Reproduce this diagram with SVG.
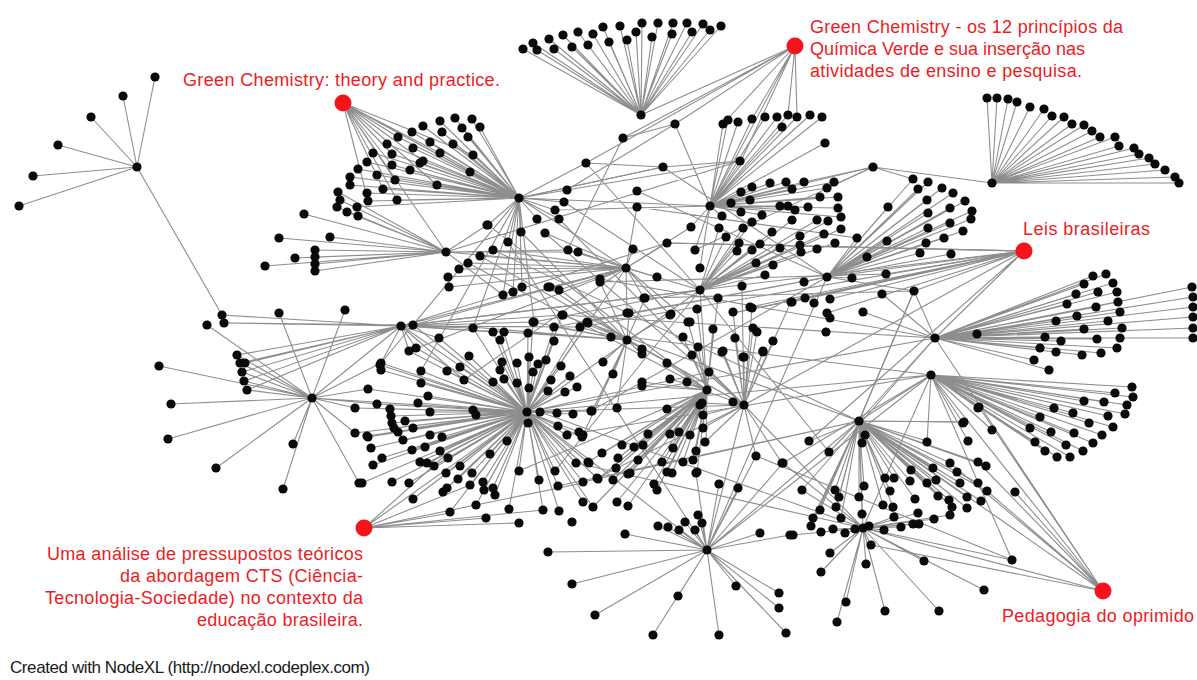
<svg xmlns="http://www.w3.org/2000/svg" width="1197" height="680" viewBox="0 0 1197 680">
<style>
.e{fill:none;stroke:#8e8e8e;stroke-width:1.1}
.n circle{fill:#0a0a0a}
.red{fill:#f4141c}
.lbl{font-family:"Liberation Sans",Arial,sans-serif;font-size:18px;fill:#ec1c24}
.cr{font-family:"Liberation Sans",Arial,sans-serif;font-size:17px;fill:#1a1a1a}
</style>
<rect width="1197" height="680" fill="#fff"/>
<g id="connectors">
<path class="e" d="M137 167L155 77M137 167L123 96M137 167L91 117M137 167L58 145M137 167L33 176M137 167L19 206M137 167L222 315"/>
<path class="e" d="M222 315L401 326M224 323L401 326M224 323L413 325M207 325L312 398M279 313L312 398M345 310L312 398M237 355L401 326M240 363L401 326M245 363L401 326M242 372L401 326M244 381L401 326M247 390L401 326"/>
<path class="e" d="M312 398L159 366M312 398L171 404M312 398L168 439M312 398L216 468M312 398L283 489M312 398L293 444M312 398L359 483M312 398L237 355M312 398L240 363M312 398L242 372M312 398L244 381M312 398L247 390M312 398L401 326M312 398L381 363M312 398L368 389M312 398L377 404M312 398L355 408M312 398L355 433M312 398L527 412"/>
<path class="e" d="M401 326L473 328M401 326L493 332M401 326L504 332M401 326L533 322M401 326L562 315M401 326L580 327M401 326L626 268M401 326L667 243M401 326L700 290M401 326L381 363M401 326L409 351M401 326L416 348M401 326L439 338M401 326L464 380"/>
<path class="e" d="M343 103L398 137M343 103L392 154M343 103L392 165M343 103L395 180M343 103L397 200M343 103L423 161M343 103L440 153M343 103L473 155M343 103L470 172M343 103L437 185M343 103L519 198M343 103L446 252M343 103L368 201M343 103L383 189"/>
<path class="e" d="M519 198L398 137M519 198L387 144M519 198L392 154M519 198L373 153M519 198L367 162M519 198L392 165M519 198L358 169M519 198L377 175M519 198L395 180M519 198L350 177M519 198L350 185M519 198L383 189M519 198L367 193M519 198L368 201M519 198L397 200M519 198L357 207M519 198L423 126M519 198L440 121M519 198L455 118M519 198L472 119M519 198L480 127M519 198L462 128M519 198L442 132M519 198L412 132M519 198L468 137M519 198L430 142M519 198L453 144M519 198L413 148M519 198L423 161M519 198L440 153M519 198L473 155M519 198L410 170M519 198L420 163M519 198L470 172M519 198L437 185M519 198L537 219M519 198L521 232M519 198L555 210M519 198L559 219M519 198L488 225M519 198L508 242M519 198L503 295M519 198L513 292M519 198L522 287M519 198L534 322M519 198L564 202M519 198L567 190M519 198L586 163M519 198L740 161M519 198L663 167M519 198L710 206M519 198L626 268"/>
<path class="e" d="M446 252L279 238M446 252L330 237M446 252L295 258M446 252L265 266M446 252L315 250M446 252L315 257M446 252L315 264M446 252L315 271M446 252L304 214M446 252L337 207M446 252L347 212M446 252L358 216M446 252L340 200M446 252L338 192M446 252L626 268M446 252L568 250M446 252L578 252M446 252L487 225"/>
<path class="e" d="M641 115L523 49M641 115L533 43M641 115L537 50M641 115L549 39M641 115L554 49M641 115L563 35M641 115L572 47M641 115L578 32M641 115L588 45M641 115L593 34M641 115L603 27M641 115L609 42M641 115L620 26M641 115L627 40M641 115L636 32M641 115L642 23M641 115L652 37M641 115L658 23M641 115L672 34M641 115L673 23M641 115L687 23M641 115L692 32M641 115L703 24M641 115L710 30M641 115L721 26M641 115L795 46"/>
<path class="e" d="M795 46L623 138M795 46L586 163M795 46L723 124M795 46L752 119M795 46L788 115M795 46L797 117M795 46L710 206M795 46L675 124M795 46L741 161"/>
<path class="e" d="M710 206L723 124M710 206L728 120M710 206L738 122M710 206L752 119M710 206L765 117M710 206L777 117M710 206L782 127M710 206L788 115M710 206L797 117M710 206L810 115M710 206L822 117M710 206L825 143M710 206L741 161M710 206L752 187M710 206L770 183M710 206L786 182M710 206L792 189M710 206L804 182M710 206L827 188M710 206L834 182M710 206L741 192M710 206L750 200M710 206L731 203M710 206L722 216M710 206L741 212M710 206L762 215M710 206L780 206M710 206L788 206M710 206L795 210M710 206L808 207M710 206L820 197M710 206L838 197M710 206L838 208M710 206L841 217M710 206L873 167M710 206L691 227M710 206L695 250M710 206L700 268"/>
<path class="e" d="M700 290L817 220M700 290L828 221M700 290L841 229M700 290L792 220M700 290L752 222M700 290L743 228M700 290L772 232M700 290L719 228M700 290L726 237M700 290L739 243M700 290L760 244M700 290L800 236M700 290L800 245M700 290L801 252M700 290L780 248M700 290L737 251M700 290L752 250M700 290L817 249M700 290L824 234M700 290L835 243M700 290L756 263M700 290L773 265M700 290L765 275M700 290L1024 251M700 290L626 268"/>
<path class="e" d="M827 277L913 179M827 277L928 182M827 277L918 189M827 277L942 188M827 277L953 193M827 277L927 200M827 277L965 201M827 277L950 208M827 277L972 211M827 277L971 219M827 277L928 213M827 277L950 223M827 277L928 228M827 277L963 231M827 277L944 238M827 277L926 243M827 277L920 253M827 277L951 254M827 277L888 207M827 277L887 241M827 277L857 238M827 277L867 257M827 277L804 282M827 277L852 278"/>
<path class="e" d="M873 167L992 183M873 167L804 182M873 167L827 188M873 167L913 179"/>
<path class="e" d="M992 183L987 98M992 183L997 98M992 183L1008 99M992 183L1017 102M992 183L1030 107M992 183L1044 109M992 183L1052 116M992 183L1064 117M992 183L1072 124M992 183L1084 125M992 183L1092 131M992 183L1100 137M992 183L1115 137M992 183L1119 146M992 183L1134 148M992 183L1139 154M992 183L1149 158M992 183L1155 164M992 183L1165 170M992 183L1175 177M992 183L1179 183"/>
<path class="e" d="M1024 251L733 313M1024 251L750 307M1024 251L792 302M1024 251L827 277M1024 251L886 274M1024 251L914 291M1024 251L935 338M1024 251L827 313M1024 251L830 299M1024 251L805 298M1024 251L744 405M1024 251L667 243M1024 251L809 441"/>
<path class="e" d="M935 338L1093 276M935 338L1106 274M935 338L1084 284M935 338L1113 283M935 338L1076 294M935 338L1098 292M935 338L1117 292M935 338L1067 304M935 338L1096 307M935 338L1118 302M935 338L1077 316M935 338L1120 312M935 338L1056 321M935 338L1084 329M935 338L1108 321M935 338L1122 328M935 338L1045 337M935 338L1061 341M935 338L1097 339M935 338L1120 338M935 338L1040 348M935 338L1056 352M935 338L1082 355M935 338L1101 353M935 338L1117 348M935 338L1034 360M935 338L1049 370M935 338L1192 287M935 338L1193 297M935 338L1193 307M935 338L1193 317M935 338L1193 328M935 338L1193 338M935 338L977 334M935 338L914 291M935 338L882 294M935 338L863 312"/>
<path class="e" d="M931 375L1132 387M931 375L1133 397M931 375L1115 393M931 375L1127 405M931 375L1125 414M931 375L1084 401M931 375L1104 402M931 375L1054 408M931 375L1073 413M931 375L1108 416M931 375L1040 417M931 375L1089 423M931 375L1113 427M931 375L1030 428M931 375L1051 432M931 375L1074 433M931 375L1102 435M931 375L1035 442M931 375L1066 445M931 375L1093 443M931 375L1045 451M931 375L1083 451M931 375L1057 457M931 375L1070 457M931 375L978 408M931 375L963 423M931 375L992 430M931 375L927 442M931 375L968 441M931 375L979 407"/>
<path class="e" d="M859 421L865 435M859 421L862 443M859 421L809 441M859 421L829 452M859 421L927 441M859 421L964 422M859 421L911 470M859 421L933 468M859 421L950 463M859 421L957 472M859 421L978 462M859 421L986 466M859 421L885 478M859 421L894 478M859 421L910 481M859 421L927 483M859 421L936 480M859 421L960 483M859 421L978 483M859 421L987 491M859 421L864 486M859 421L890 491M859 421L835 490M859 421L839 497M859 421L859 497M859 421L915 499M859 421L938 496M859 421L949 500M859 421L967 497M859 421L981 501M859 421L836 507M859 421L883 505M859 421L893 507M859 421L952 507M859 421L967 508M859 421L820 510M859 421L841 518M859 421L862 514M859 421L813 518M859 421L811 526M859 421L863 528M859 421L914 291M859 421L931 375M859 421L935 338"/>
<path class="e" d="M863 528L894 517M863 528L918 513M863 528L950 515M863 528L934 519M863 528L821 532M863 528L833 529M863 528L845 533M863 528L855 529M863 528L869 526M863 528L884 530M863 528L901 527M863 528L913 524M863 528L919 524M863 528L793 535M863 528L871 545M863 528L830 553M863 528L866 564M863 528L924 561M863 528L1012 560M863 528L821 572M863 528L837 622M863 528L885 611M863 528L939 611M863 528L846 602M863 528L984 590M863 528L802 490M863 528L1103 591M863 528L783 463"/>
<path class="e" d="M1103 591L931 375M1103 591L935 338M1103 591L859 421M1103 591L978 462M1103 591L1015 492M1103 591L979 407M1103 591L950 463M1103 591L987 491"/>
<path class="e" d="M707 550L548 552M707 550L572 584M707 550L595 615M707 550L653 635M707 550L678 596M707 550L719 635M707 550L736 586M707 550L779 593M707 550L779 608M707 550L786 633M707 550L760 533M707 550L790 535M707 550L658 526M707 550L668 527M707 550L679 530M707 550L685 522M707 550L695 530M707 550L698 515M707 550L702 523M707 550L625 534M707 550L744 405M707 550L859 421M707 550L827 277M707 550L931 375M707 550L527 412M707 550L756 456M707 550L783 463M707 550L719 484M707 550L738 488M707 550L696 473"/>
<path class="e" d="M527 412L402 326M527 412L413 325M527 412L473 328M527 412L493 332M527 412L504 332M527 412L500 340M527 412L533 322M527 412L528 333M527 412L554 327M527 412L562 315M527 412L554 341M527 412L580 327M527 412L588 323M527 412L439 338M527 412L409 351M527 412L416 348M527 412L469 356M527 412L502 362M527 412L517 363M527 412L529 357M527 412L538 364M527 412L546 360M527 412L561 366M527 412L381 363M527 412L381 370M527 412L421 371M527 412L447 371M527 412L460 367M527 412L500 370M527 412L504 379M527 412L493 382M527 412L517 383M527 412L533 372M527 412L551 380M527 412L570 376M527 412L529 388M527 412L548 391M527 412L565 392M527 412L577 387M527 412L421 383M527 412L464 380M527 412L368 389M527 412L428 396M527 412L377 404M527 412L418 403M527 412L473 410M527 412L476 415M527 412L390 409M527 412L391 416M527 412L392 423M527 412L430 412M527 412L557 413M527 412L573 414M527 412L591 411M527 412L558 426M527 412L394 428M527 412L405 421M527 412L413 428M527 412L398 432M527 412L367 436M527 412L403 440M527 412L430 435M527 412L425 447M527 412L442 437M527 412L567 435M527 412L579 432M527 412L582 437M527 412L371 448M527 412L412 450M527 412L440 451M527 412L448 458M527 412L507 441M527 412L490 454M527 412L382 458M527 412L373 465M527 412L420 462M527 412L427 463M527 412L434 466M527 412L460 466M527 412L519 471M527 412L446 473M527 412L458 479M527 412L472 473M527 412L470 485M527 412L483 482M527 412L484 490M527 412L493 488M527 412L495 495M527 412L539 480M527 412L555 471M527 412L558 486M527 412L576 463M527 412L589 463M527 412L583 482M527 412L597 478M527 412L392 482M527 412L409 483M527 412L362 483M527 412L413 499M527 412L443 492M527 412L447 488M527 412L450 512M527 412L476 505M527 412L509 509M527 412L543 510M527 412L559 511M527 412L583 502M527 412L593 507M527 412L380 365M527 412L355 408M527 412L355 433M527 412L368 437"/>
<path class="e" d="M364 528L450 513M364 528L486 518M364 528L527 412M364 528L450 451M364 528L583 483M364 528L470 485M364 528L519 523M364 528L543 510"/>
<path class="e" d="M626 268L448 277M626 268L449 287M626 268L459 269M626 268L468 263M626 268L480 256M626 268L493 250M626 268L545 233M626 268L568 250M626 268L578 252M626 268L633 249M626 268L600 279M626 268L657 277M626 268L637 207M626 268L667 243M626 268L691 227M626 268L550 287M626 268L559 290M626 268L627 313M626 268L644 298M626 268L670 315M626 268L690 322"/>
<path class="e" d="M627 340L587 322M627 340L611 337M627 340L603 362M627 340L592 411M627 340L583 435M627 340L612 335M627 340L613 374M627 340L632 341M627 340L642 349M627 340L642 354M627 340L617 408M627 340L600 282M627 340L645 298M627 340L629 313M627 340L671 314M627 340L548 287M627 340L559 289M627 340L563 315M627 340L579 327M627 340L533 322M627 340L555 327M627 340L493 331M627 340L503 332M627 340L471 327M627 340L528 333"/>
<path class="e" d="M744 405L733 402M744 405L742 286M744 405L752 308M744 405L753 328M744 405L757 332M744 405L773 341M744 405L735 338M744 405L763 351M744 405L744 357M744 405L723 351M744 405L733 312M744 405L791 302M744 405L756 456M744 405L782 463M744 405L709 372M744 405L708 392M744 405L702 403M744 405L703 415M744 405L703 428M744 405L705 442M744 405L722 352M744 405L743 357M744 405L763 352M744 405L773 343"/>
<path class="e" d="M707 390L700 290M707 390L718 298M707 390L697 309M707 390L688 322M707 390L713 329M707 390L683 337M707 390L698 347M707 390L692 355M707 390L667 363M707 390L670 379M707 390L687 382M707 390L642 382M707 390L642 386M707 390L667 409M707 390L700 405M707 390L704 413M707 390L648 434M707 390L670 434M707 390L679 432M707 390L690 435M707 390L703 428M707 390L706 442M707 390L622 445M707 390L634 447M707 390L643 445M707 390L673 448M707 390L696 451M707 390L693 460M707 390L683 462M707 390L602 453M707 390L588 462M707 390L618 458M707 390L638 460M707 390L662 462M707 390L616 468M707 390L630 473M707 390L667 472M707 390L697 472M707 390L598 479M707 390L613 480M707 390L628 474M707 390L654 484M707 390L657 490M707 390L672 473M707 390L617 502M707 390L628 506"/>
<path class="e" d="M401 326L700 290M413 325L626 268M446 252L740 161M519 198L663 167M555 210L710 206M567 190L675 124M623 138L567 251M637 207L857 238M667 243L1024 251M695 250L873 167M733 313L1024 251M600 279L935 338M612 335L931 375M587 322L827 277M627 340L744 405M527 412L700 290M527 412L744 405M527 412L626 268M527 412L709 372M527 412L935 338M527 412L931 375M540 412L863 528M583 482L859 421M600 282L886 274M645 298L914 291M756 456L1012 560M783 463L931 375M802 490L935 338M829 452L700 290M964 422L859 421M859 421L914 291M863 528L931 375M863 528L744 405M871 545L1103 591M1012 560L931 375M914 291L827 277M464 380L626 268M409 351L626 268M381 363L519 198M421 371L519 198M413 325L519 198M473 328L519 198M503 295L446 252M586 163L663 167M623 138L675 124M741 161L663 167M663 167L827 277M564 202L700 290M559 219L744 405M637 191L827 277M675 124L710 206M586 163L700 290M545 233L744 405M488 225L707 390M508 242L707 550M521 232L627 340M468 263L707 390M480 256L744 405M493 250L859 421M534 322L700 290M562 315L935 338M580 327L1024 251M554 327L827 277M588 323L859 421M591 411L827 277M567 435L931 375M597 478L744 405M555 471L700 290M576 463L863 528M519 471L707 390M507 441L626 268M558 486L859 421M593 507L707 390"/>
</g>
<g id="node-cluster-left" class="n">
<circle cx="137" cy="167" r="4.6"/><circle cx="155" cy="77" r="4.6"/><circle cx="123" cy="96" r="4.6"/><circle cx="91" cy="117" r="4.6"/><circle cx="58" cy="145" r="4.6"/><circle cx="33" cy="176" r="4.6"/><circle cx="19" cy="206" r="4.6"/>
<circle cx="222" cy="315" r="4.6"/><circle cx="224" cy="323" r="4.6"/><circle cx="207" cy="325" r="4.6"/><circle cx="279" cy="313" r="4.6"/><circle cx="345" cy="310" r="4.6"/><circle cx="401" cy="326" r="4.6"/><circle cx="312" cy="398" r="4.6"/>
<circle cx="159" cy="366" r="4.6"/><circle cx="171" cy="404" r="4.6"/><circle cx="168" cy="439" r="4.6"/><circle cx="216" cy="468" r="4.6"/><circle cx="283" cy="489" r="4.6"/><circle cx="293" cy="444" r="4.6"/><circle cx="359" cy="483" r="4.6"/>
<circle cx="237" cy="355" r="4.6"/><circle cx="240" cy="363" r="4.6"/><circle cx="245" cy="363" r="4.6"/><circle cx="242" cy="372" r="4.6"/><circle cx="244" cy="381" r="4.6"/><circle cx="247" cy="390" r="4.6"/>
<circle cx="380" cy="365" r="4.6"/><circle cx="355" cy="408" r="4.6"/><circle cx="355" cy="433" r="4.6"/><circle cx="368" cy="437" r="4.6"/>
</g>
<g id="node-cluster-gc" class="n">
<circle cx="398" cy="137" r="4.6"/><circle cx="387" cy="144" r="4.6"/><circle cx="392" cy="154" r="4.6"/><circle cx="373" cy="153" r="4.6"/><circle cx="367" cy="162" r="4.6"/><circle cx="392" cy="165" r="4.6"/><circle cx="358" cy="169" r="4.6"/><circle cx="377" cy="175" r="4.6"/><circle cx="395" cy="180" r="4.6"/><circle cx="350" cy="177" r="4.6"/><circle cx="350" cy="185" r="4.6"/><circle cx="383" cy="189" r="4.6"/><circle cx="367" cy="193" r="4.6"/><circle cx="338" cy="192" r="4.6"/><circle cx="340" cy="200" r="4.6"/><circle cx="368" cy="201" r="4.6"/><circle cx="397" cy="200" r="4.6"/><circle cx="337" cy="207" r="4.6"/><circle cx="347" cy="212" r="4.6"/><circle cx="357" cy="207" r="4.6"/><circle cx="358" cy="216" r="4.6"/><circle cx="304" cy="214" r="4.6"/>
<circle cx="423" cy="126" r="4.6"/><circle cx="440" cy="121" r="4.6"/><circle cx="455" cy="118" r="4.6"/><circle cx="472" cy="119" r="4.6"/><circle cx="480" cy="127" r="4.6"/><circle cx="462" cy="128" r="4.6"/><circle cx="442" cy="132" r="4.6"/><circle cx="412" cy="132" r="4.6"/><circle cx="468" cy="137" r="4.6"/><circle cx="430" cy="142" r="4.6"/><circle cx="453" cy="144" r="4.6"/><circle cx="413" cy="148" r="4.6"/><circle cx="423" cy="161" r="4.6"/><circle cx="440" cy="153" r="4.6"/><circle cx="473" cy="155" r="4.6"/><circle cx="410" cy="170" r="4.6"/><circle cx="420" cy="163" r="4.6"/><circle cx="470" cy="172" r="4.6"/><circle cx="437" cy="185" r="4.6"/>
<circle cx="446" cy="252" r="4.6"/><circle cx="279" cy="238" r="4.6"/><circle cx="330" cy="237" r="4.6"/><circle cx="295" cy="258" r="4.6"/><circle cx="265" cy="266" r="4.6"/><circle cx="315" cy="250" r="4.6"/><circle cx="315" cy="257" r="4.6"/><circle cx="315" cy="264" r="4.6"/><circle cx="315" cy="271" r="4.6"/>
</g>
<g id="node-cluster-mid" class="n">
<circle cx="519" cy="198" r="4.6"/><circle cx="537" cy="219" r="4.6"/><circle cx="521" cy="232" r="4.6"/><circle cx="555" cy="210" r="4.6"/><circle cx="559" cy="219" r="4.6"/><circle cx="488" cy="225" r="4.6"/><circle cx="508" cy="242" r="4.6"/><circle cx="503" cy="295" r="4.6"/><circle cx="513" cy="292" r="4.6"/><circle cx="522" cy="287" r="4.6"/><circle cx="534" cy="322" r="4.6"/><circle cx="564" cy="202" r="4.6"/><circle cx="567" cy="190" r="4.6"/><circle cx="586" cy="163" r="4.6"/><circle cx="623" cy="138" r="4.6"/><circle cx="675" cy="124" r="4.6"/><circle cx="663" cy="167" r="4.6"/><circle cx="740" cy="161" r="4.6"/><circle cx="637" cy="191" r="4.6"/><circle cx="637" cy="207" r="4.6"/><circle cx="545" cy="233" r="4.6"/><circle cx="568" cy="250" r="4.6"/><circle cx="578" cy="252" r="4.6"/><circle cx="633" cy="249" r="4.6"/><circle cx="600" cy="279" r="4.6"/><circle cx="657" cy="277" r="4.6"/><circle cx="667" cy="243" r="4.6"/><circle cx="691" cy="227" r="4.6"/><circle cx="695" cy="250" r="4.6"/><circle cx="700" cy="268" r="4.6"/><circle cx="448" cy="277" r="4.6"/><circle cx="449" cy="287" r="4.6"/><circle cx="459" cy="269" r="4.6"/><circle cx="468" cy="263" r="4.6"/><circle cx="480" cy="256" r="4.6"/><circle cx="493" cy="250" r="4.6"/><circle cx="626" cy="268" r="4.6"/><circle cx="550" cy="287" r="4.6"/><circle cx="559" cy="290" r="4.6"/><circle cx="627" cy="313" r="4.6"/><circle cx="644" cy="298" r="4.6"/><circle cx="670" cy="315" r="4.6"/><circle cx="690" cy="322" r="4.6"/><circle cx="487" cy="225" r="4.6"/>
<circle cx="627" cy="340" r="4.6"/><circle cx="587" cy="322" r="4.6"/><circle cx="611" cy="337" r="4.6"/><circle cx="603" cy="362" r="4.6"/><circle cx="592" cy="411" r="4.6"/><circle cx="583" cy="435" r="4.6"/><circle cx="613" cy="374" r="4.6"/><circle cx="642" cy="349" r="4.6"/><circle cx="642" cy="354" r="4.6"/><circle cx="617" cy="408" r="4.6"/><circle cx="600" cy="282" r="4.6"/><circle cx="645" cy="298" r="4.6"/><circle cx="629" cy="313" r="4.6"/><circle cx="671" cy="314" r="4.6"/><circle cx="548" cy="287" r="4.6"/><circle cx="563" cy="315" r="4.6"/>
</g>
<g id="node-cluster-center" class="n">
<circle cx="527" cy="412" r="4.6"/><circle cx="413" cy="325" r="4.6"/><circle cx="473" cy="328" r="4.6"/><circle cx="493" cy="332" r="4.6"/><circle cx="504" cy="332" r="4.6"/><circle cx="500" cy="340" r="4.6"/><circle cx="533" cy="322" r="4.6"/><circle cx="528" cy="333" r="4.6"/><circle cx="554" cy="327" r="4.6"/><circle cx="562" cy="315" r="4.6"/><circle cx="554" cy="341" r="4.6"/><circle cx="580" cy="327" r="4.6"/><circle cx="588" cy="323" r="4.6"/><circle cx="439" cy="338" r="4.6"/><circle cx="409" cy="351" r="4.6"/><circle cx="416" cy="348" r="4.6"/><circle cx="469" cy="356" r="4.6"/><circle cx="502" cy="362" r="4.6"/><circle cx="517" cy="363" r="4.6"/><circle cx="529" cy="357" r="4.6"/><circle cx="538" cy="364" r="4.6"/><circle cx="546" cy="360" r="4.6"/><circle cx="561" cy="366" r="4.6"/><circle cx="381" cy="363" r="4.6"/><circle cx="381" cy="370" r="4.6"/><circle cx="421" cy="371" r="4.6"/><circle cx="447" cy="371" r="4.6"/><circle cx="460" cy="367" r="4.6"/><circle cx="500" cy="370" r="4.6"/><circle cx="504" cy="379" r="4.6"/><circle cx="493" cy="382" r="4.6"/><circle cx="517" cy="383" r="4.6"/><circle cx="533" cy="372" r="4.6"/><circle cx="551" cy="380" r="4.6"/><circle cx="570" cy="376" r="4.6"/><circle cx="529" cy="388" r="4.6"/><circle cx="548" cy="391" r="4.6"/><circle cx="565" cy="392" r="4.6"/><circle cx="577" cy="387" r="4.6"/><circle cx="421" cy="383" r="4.6"/><circle cx="464" cy="380" r="4.6"/><circle cx="368" cy="389" r="4.6"/><circle cx="428" cy="396" r="4.6"/><circle cx="377" cy="404" r="4.6"/><circle cx="418" cy="403" r="4.6"/><circle cx="473" cy="410" r="4.6"/><circle cx="476" cy="415" r="4.6"/><circle cx="390" cy="409" r="4.6"/><circle cx="391" cy="416" r="4.6"/><circle cx="392" cy="423" r="4.6"/><circle cx="430" cy="412" r="4.6"/><circle cx="528" cy="423" r="4.6"/><circle cx="540" cy="412" r="4.6"/><circle cx="557" cy="413" r="4.6"/><circle cx="573" cy="414" r="4.6"/><circle cx="591" cy="411" r="4.6"/><circle cx="558" cy="426" r="4.6"/><circle cx="394" cy="428" r="4.6"/><circle cx="405" cy="421" r="4.6"/><circle cx="413" cy="428" r="4.6"/><circle cx="398" cy="432" r="4.6"/><circle cx="367" cy="436" r="4.6"/><circle cx="403" cy="440" r="4.6"/><circle cx="430" cy="435" r="4.6"/><circle cx="425" cy="447" r="4.6"/><circle cx="442" cy="437" r="4.6"/><circle cx="567" cy="435" r="4.6"/><circle cx="579" cy="432" r="4.6"/><circle cx="582" cy="437" r="4.6"/><circle cx="371" cy="448" r="4.6"/><circle cx="412" cy="450" r="4.6"/><circle cx="440" cy="451" r="4.6"/><circle cx="448" cy="458" r="4.6"/><circle cx="507" cy="441" r="4.6"/><circle cx="490" cy="454" r="4.6"/><circle cx="382" cy="458" r="4.6"/><circle cx="373" cy="465" r="4.6"/><circle cx="420" cy="462" r="4.6"/><circle cx="427" cy="463" r="4.6"/><circle cx="434" cy="466" r="4.6"/><circle cx="460" cy="466" r="4.6"/><circle cx="519" cy="471" r="4.6"/><circle cx="446" cy="473" r="4.6"/><circle cx="458" cy="479" r="4.6"/><circle cx="472" cy="473" r="4.6"/><circle cx="470" cy="485" r="4.6"/><circle cx="483" cy="482" r="4.6"/><circle cx="484" cy="490" r="4.6"/><circle cx="493" cy="488" r="4.6"/><circle cx="495" cy="495" r="4.6"/><circle cx="539" cy="480" r="4.6"/><circle cx="555" cy="471" r="4.6"/><circle cx="558" cy="486" r="4.6"/><circle cx="576" cy="463" r="4.6"/><circle cx="589" cy="463" r="4.6"/><circle cx="583" cy="482" r="4.6"/><circle cx="597" cy="478" r="4.6"/><circle cx="392" cy="482" r="4.6"/><circle cx="409" cy="483" r="4.6"/><circle cx="362" cy="483" r="4.6"/><circle cx="413" cy="499" r="4.6"/><circle cx="443" cy="492" r="4.6"/><circle cx="447" cy="488" r="4.6"/><circle cx="450" cy="512" r="4.6"/><circle cx="476" cy="505" r="4.6"/><circle cx="509" cy="509" r="4.6"/><circle cx="543" cy="510" r="4.6"/><circle cx="559" cy="511" r="4.6"/><circle cx="583" cy="502" r="4.6"/><circle cx="593" cy="507" r="4.6"/><circle cx="486" cy="518" r="4.6"/><circle cx="519" cy="523" r="4.6"/><circle cx="572" cy="522" r="4.6"/><circle cx="617" cy="502" r="4.6"/><circle cx="628" cy="506" r="4.6"/>
</g>
<g id="node-cluster-top" class="n">
<circle cx="641" cy="115" r="4.6"/><circle cx="523" cy="49" r="4.6"/><circle cx="533" cy="43" r="4.6"/><circle cx="537" cy="50" r="4.6"/><circle cx="549" cy="39" r="4.6"/><circle cx="554" cy="49" r="4.6"/><circle cx="563" cy="35" r="4.6"/><circle cx="572" cy="47" r="4.6"/><circle cx="578" cy="32" r="4.6"/><circle cx="588" cy="45" r="4.6"/><circle cx="593" cy="34" r="4.6"/><circle cx="603" cy="27" r="4.6"/><circle cx="609" cy="42" r="4.6"/><circle cx="620" cy="26" r="4.6"/><circle cx="627" cy="40" r="4.6"/><circle cx="636" cy="32" r="4.6"/><circle cx="642" cy="23" r="4.6"/><circle cx="652" cy="37" r="4.6"/><circle cx="658" cy="23" r="4.6"/><circle cx="672" cy="34" r="4.6"/><circle cx="673" cy="23" r="4.6"/><circle cx="687" cy="23" r="4.6"/><circle cx="692" cy="32" r="4.6"/><circle cx="703" cy="24" r="4.6"/><circle cx="710" cy="30" r="4.6"/><circle cx="721" cy="26" r="4.6"/>
</g>
<g id="node-cluster-topright" class="n">
<circle cx="710" cy="206" r="4.6"/><circle cx="723" cy="124" r="4.6"/><circle cx="728" cy="120" r="4.6"/><circle cx="738" cy="122" r="4.6"/><circle cx="752" cy="119" r="4.6"/><circle cx="765" cy="117" r="4.6"/><circle cx="777" cy="117" r="4.6"/><circle cx="782" cy="127" r="4.6"/><circle cx="788" cy="115" r="4.6"/><circle cx="797" cy="117" r="4.6"/><circle cx="810" cy="115" r="4.6"/><circle cx="822" cy="117" r="4.6"/><circle cx="825" cy="143" r="4.6"/>
<circle cx="752" cy="187" r="4.6"/><circle cx="770" cy="183" r="4.6"/><circle cx="786" cy="182" r="4.6"/><circle cx="792" cy="189" r="4.6"/><circle cx="804" cy="182" r="4.6"/><circle cx="827" cy="188" r="4.6"/><circle cx="834" cy="182" r="4.6"/><circle cx="741" cy="192" r="4.6"/><circle cx="750" cy="200" r="4.6"/><circle cx="731" cy="203" r="4.6"/><circle cx="722" cy="216" r="4.6"/><circle cx="741" cy="212" r="4.6"/><circle cx="762" cy="215" r="4.6"/><circle cx="780" cy="206" r="4.6"/><circle cx="788" cy="206" r="4.6"/><circle cx="795" cy="210" r="4.6"/><circle cx="808" cy="207" r="4.6"/><circle cx="820" cy="197" r="4.6"/><circle cx="838" cy="197" r="4.6"/><circle cx="838" cy="208" r="4.6"/><circle cx="841" cy="217" r="4.6"/><circle cx="817" cy="220" r="4.6"/><circle cx="828" cy="221" r="4.6"/><circle cx="841" cy="229" r="4.6"/><circle cx="792" cy="220" r="4.6"/><circle cx="752" cy="222" r="4.6"/><circle cx="743" cy="228" r="4.6"/><circle cx="772" cy="232" r="4.6"/><circle cx="719" cy="228" r="4.6"/><circle cx="726" cy="237" r="4.6"/><circle cx="739" cy="243" r="4.6"/><circle cx="760" cy="244" r="4.6"/><circle cx="800" cy="236" r="4.6"/><circle cx="800" cy="245" r="4.6"/><circle cx="801" cy="252" r="4.6"/><circle cx="780" cy="248" r="4.6"/><circle cx="737" cy="251" r="4.6"/><circle cx="752" cy="250" r="4.6"/><circle cx="817" cy="249" r="4.6"/><circle cx="824" cy="234" r="4.6"/><circle cx="835" cy="243" r="4.6"/><circle cx="756" cy="263" r="4.6"/><circle cx="773" cy="265" r="4.6"/><circle cx="765" cy="275" r="4.6"/><circle cx="700" cy="290" r="4.6"/>
<circle cx="873" cy="167" r="4.6"/><circle cx="827" cy="277" r="4.6"/><circle cx="913" cy="179" r="4.6"/><circle cx="928" cy="182" r="4.6"/><circle cx="918" cy="189" r="4.6"/><circle cx="942" cy="188" r="4.6"/><circle cx="953" cy="193" r="4.6"/><circle cx="927" cy="200" r="4.6"/><circle cx="965" cy="201" r="4.6"/><circle cx="950" cy="208" r="4.6"/><circle cx="972" cy="211" r="4.6"/><circle cx="971" cy="219" r="4.6"/><circle cx="928" cy="213" r="4.6"/><circle cx="950" cy="223" r="4.6"/><circle cx="928" cy="228" r="4.6"/><circle cx="963" cy="231" r="4.6"/><circle cx="944" cy="238" r="4.6"/><circle cx="926" cy="243" r="4.6"/><circle cx="920" cy="253" r="4.6"/><circle cx="951" cy="254" r="4.6"/><circle cx="888" cy="207" r="4.6"/><circle cx="887" cy="241" r="4.6"/><circle cx="857" cy="238" r="4.6"/><circle cx="867" cy="257" r="4.6"/><circle cx="804" cy="282" r="4.6"/><circle cx="852" cy="278" r="4.6"/><circle cx="886" cy="274" r="4.6"/><circle cx="914" cy="291" r="4.6"/><circle cx="882" cy="294" r="4.6"/><circle cx="863" cy="312" r="4.6"/><circle cx="792" cy="302" r="4.6"/><circle cx="805" cy="298" r="4.6"/><circle cx="814" cy="303" r="4.6"/><circle cx="830" cy="299" r="4.6"/><circle cx="827" cy="313" r="4.6"/><circle cx="830" cy="318" r="4.6"/><circle cx="826" cy="332" r="4.6"/>
<circle cx="992" cy="183" r="4.6"/><circle cx="987" cy="98" r="4.6"/><circle cx="997" cy="98" r="4.6"/><circle cx="1008" cy="99" r="4.6"/><circle cx="1017" cy="102" r="4.6"/><circle cx="1030" cy="107" r="4.6"/><circle cx="1044" cy="109" r="4.6"/><circle cx="1052" cy="116" r="4.6"/><circle cx="1064" cy="117" r="4.6"/><circle cx="1072" cy="124" r="4.6"/><circle cx="1084" cy="125" r="4.6"/><circle cx="1092" cy="131" r="4.6"/><circle cx="1100" cy="137" r="4.6"/><circle cx="1115" cy="137" r="4.6"/><circle cx="1119" cy="146" r="4.6"/><circle cx="1134" cy="148" r="4.6"/><circle cx="1139" cy="154" r="4.6"/><circle cx="1149" cy="158" r="4.6"/><circle cx="1155" cy="164" r="4.6"/><circle cx="1165" cy="170" r="4.6"/><circle cx="1175" cy="177" r="4.6"/><circle cx="1179" cy="183" r="4.6"/>
</g>
<g id="node-cluster-right" class="n">
<circle cx="935" cy="338" r="4.6"/><circle cx="977" cy="334" r="4.6"/><circle cx="931" cy="375" r="4.6"/><circle cx="1093" cy="276" r="4.6"/><circle cx="1106" cy="274" r="4.6"/><circle cx="1084" cy="284" r="4.6"/><circle cx="1113" cy="283" r="4.6"/><circle cx="1076" cy="294" r="4.6"/><circle cx="1098" cy="292" r="4.6"/><circle cx="1117" cy="292" r="4.6"/><circle cx="1067" cy="304" r="4.6"/><circle cx="1096" cy="307" r="4.6"/><circle cx="1118" cy="302" r="4.6"/><circle cx="1077" cy="316" r="4.6"/><circle cx="1120" cy="312" r="4.6"/><circle cx="1056" cy="321" r="4.6"/><circle cx="1084" cy="329" r="4.6"/><circle cx="1108" cy="321" r="4.6"/><circle cx="1122" cy="328" r="4.6"/><circle cx="1045" cy="337" r="4.6"/><circle cx="1061" cy="341" r="4.6"/><circle cx="1097" cy="339" r="4.6"/><circle cx="1120" cy="338" r="4.6"/><circle cx="1040" cy="348" r="4.6"/><circle cx="1056" cy="352" r="4.6"/><circle cx="1082" cy="355" r="4.6"/><circle cx="1101" cy="353" r="4.6"/><circle cx="1117" cy="348" r="4.6"/><circle cx="1034" cy="360" r="4.6"/><circle cx="1049" cy="370" r="4.6"/><circle cx="1192" cy="287" r="4.6"/><circle cx="1193" cy="297" r="4.6"/><circle cx="1193" cy="307" r="4.6"/><circle cx="1193" cy="317" r="4.6"/><circle cx="1193" cy="328" r="4.6"/><circle cx="1193" cy="338" r="4.6"/>
<circle cx="1132" cy="387" r="4.6"/><circle cx="1133" cy="397" r="4.6"/><circle cx="1115" cy="393" r="4.6"/><circle cx="1127" cy="405" r="4.6"/><circle cx="1125" cy="414" r="4.6"/><circle cx="1084" cy="401" r="4.6"/><circle cx="1104" cy="402" r="4.6"/><circle cx="1054" cy="408" r="4.6"/><circle cx="1073" cy="413" r="4.6"/><circle cx="1108" cy="416" r="4.6"/><circle cx="1040" cy="417" r="4.6"/><circle cx="1089" cy="423" r="4.6"/><circle cx="1113" cy="427" r="4.6"/><circle cx="1030" cy="428" r="4.6"/><circle cx="1051" cy="432" r="4.6"/><circle cx="1074" cy="433" r="4.6"/><circle cx="1102" cy="435" r="4.6"/><circle cx="1035" cy="442" r="4.6"/><circle cx="1066" cy="445" r="4.6"/><circle cx="1093" cy="443" r="4.6"/><circle cx="1045" cy="451" r="4.6"/><circle cx="1083" cy="451" r="4.6"/><circle cx="1057" cy="457" r="4.6"/><circle cx="1070" cy="457" r="4.6"/><circle cx="978" cy="408" r="4.6"/><circle cx="963" cy="423" r="4.6"/><circle cx="992" cy="430" r="4.6"/><circle cx="927" cy="442" r="4.6"/><circle cx="968" cy="441" r="4.6"/><circle cx="979" cy="407" r="4.6"/>
</g>
<g id="node-cluster-lowright" class="n">
<circle cx="859" cy="421" r="4.6"/><circle cx="865" cy="435" r="4.6"/><circle cx="862" cy="443" r="4.6"/><circle cx="809" cy="441" r="4.6"/><circle cx="829" cy="452" r="4.6"/><circle cx="783" cy="463" r="4.6"/><circle cx="964" cy="422" r="4.6"/><circle cx="911" cy="470" r="4.6"/><circle cx="933" cy="468" r="4.6"/><circle cx="950" cy="463" r="4.6"/><circle cx="957" cy="472" r="4.6"/><circle cx="978" cy="462" r="4.6"/><circle cx="986" cy="466" r="4.6"/><circle cx="885" cy="478" r="4.6"/><circle cx="894" cy="478" r="4.6"/><circle cx="910" cy="481" r="4.6"/><circle cx="927" cy="483" r="4.6"/><circle cx="936" cy="480" r="4.6"/><circle cx="960" cy="483" r="4.6"/><circle cx="978" cy="483" r="4.6"/><circle cx="987" cy="491" r="4.6"/><circle cx="1015" cy="492" r="4.6"/><circle cx="864" cy="486" r="4.6"/><circle cx="890" cy="491" r="4.6"/><circle cx="835" cy="490" r="4.6"/><circle cx="839" cy="497" r="4.6"/><circle cx="802" cy="490" r="4.6"/><circle cx="859" cy="497" r="4.6"/><circle cx="915" cy="499" r="4.6"/><circle cx="938" cy="496" r="4.6"/><circle cx="949" cy="500" r="4.6"/><circle cx="967" cy="497" r="4.6"/><circle cx="981" cy="501" r="4.6"/><circle cx="836" cy="507" r="4.6"/><circle cx="883" cy="505" r="4.6"/><circle cx="893" cy="507" r="4.6"/><circle cx="952" cy="507" r="4.6"/><circle cx="967" cy="508" r="4.6"/><circle cx="820" cy="510" r="4.6"/><circle cx="813" cy="518" r="4.6"/><circle cx="841" cy="518" r="4.6"/><circle cx="862" cy="514" r="4.6"/><circle cx="894" cy="517" r="4.6"/><circle cx="918" cy="513" r="4.6"/><circle cx="950" cy="515" r="4.6"/><circle cx="934" cy="519" r="4.6"/><circle cx="811" cy="526" r="4.6"/><circle cx="821" cy="532" r="4.6"/><circle cx="833" cy="529" r="4.6"/><circle cx="845" cy="533" r="4.6"/><circle cx="855" cy="529" r="4.6"/><circle cx="863" cy="528" r="4.6"/><circle cx="869" cy="526" r="4.6"/><circle cx="884" cy="530" r="4.6"/><circle cx="901" cy="527" r="4.6"/><circle cx="913" cy="524" r="4.6"/><circle cx="919" cy="524" r="4.6"/><circle cx="793" cy="535" r="4.6"/><circle cx="871" cy="545" r="4.6"/><circle cx="830" cy="553" r="4.6"/><circle cx="866" cy="564" r="4.6"/><circle cx="924" cy="561" r="4.6"/><circle cx="1012" cy="560" r="4.6"/><circle cx="821" cy="572" r="4.6"/><circle cx="837" cy="622" r="4.6"/><circle cx="885" cy="611" r="4.6"/><circle cx="939" cy="611" r="4.6"/><circle cx="846" cy="602" r="4.6"/><circle cx="984" cy="590" r="4.6"/>
</g>
<g id="node-cluster-lowmid" class="n">
<circle cx="744" cy="405" r="4.6"/><circle cx="707" cy="390" r="4.6"/><circle cx="733" cy="402" r="4.6"/><circle cx="742" cy="286" r="4.6"/><circle cx="752" cy="308" r="4.6"/><circle cx="753" cy="328" r="4.6"/><circle cx="757" cy="332" r="4.6"/><circle cx="773" cy="341" r="4.6"/><circle cx="735" cy="338" r="4.6"/><circle cx="763" cy="351" r="4.6"/><circle cx="744" cy="357" r="4.6"/><circle cx="723" cy="351" r="4.6"/><circle cx="733" cy="312" r="4.6"/><circle cx="750" cy="307" r="4.6"/><circle cx="791" cy="302" r="4.6"/><circle cx="756" cy="456" r="4.6"/><circle cx="782" cy="463" r="4.6"/><circle cx="709" cy="372" r="4.6"/><circle cx="702" cy="403" r="4.6"/><circle cx="703" cy="415" r="4.6"/><circle cx="703" cy="428" r="4.6"/><circle cx="705" cy="442" r="4.6"/><circle cx="718" cy="298" r="4.6"/><circle cx="697" cy="309" r="4.6"/><circle cx="688" cy="322" r="4.6"/><circle cx="713" cy="329" r="4.6"/><circle cx="683" cy="337" r="4.6"/><circle cx="698" cy="347" r="4.6"/><circle cx="692" cy="355" r="4.6"/><circle cx="667" cy="363" r="4.6"/><circle cx="670" cy="379" r="4.6"/><circle cx="687" cy="382" r="4.6"/><circle cx="642" cy="382" r="4.6"/><circle cx="642" cy="386" r="4.6"/><circle cx="667" cy="409" r="4.6"/><circle cx="700" cy="405" r="4.6"/><circle cx="648" cy="434" r="4.6"/><circle cx="670" cy="434" r="4.6"/><circle cx="679" cy="432" r="4.6"/><circle cx="690" cy="435" r="4.6"/><circle cx="622" cy="445" r="4.6"/><circle cx="634" cy="447" r="4.6"/><circle cx="643" cy="445" r="4.6"/><circle cx="673" cy="448" r="4.6"/><circle cx="696" cy="451" r="4.6"/><circle cx="693" cy="460" r="4.6"/><circle cx="683" cy="462" r="4.6"/><circle cx="602" cy="453" r="4.6"/><circle cx="588" cy="462" r="4.6"/><circle cx="618" cy="458" r="4.6"/><circle cx="638" cy="460" r="4.6"/><circle cx="662" cy="462" r="4.6"/><circle cx="616" cy="468" r="4.6"/><circle cx="630" cy="473" r="4.6"/><circle cx="667" cy="472" r="4.6"/><circle cx="697" cy="472" r="4.6"/><circle cx="598" cy="479" r="4.6"/><circle cx="613" cy="480" r="4.6"/><circle cx="628" cy="474" r="4.6"/><circle cx="654" cy="484" r="4.6"/><circle cx="657" cy="490" r="4.6"/><circle cx="672" cy="473" r="4.6"/><circle cx="719" cy="484" r="4.6"/><circle cx="738" cy="488" r="4.6"/><circle cx="696" cy="473" r="4.6"/><circle cx="743" cy="357" r="4.6"/><circle cx="763" cy="352" r="4.6"/><circle cx="722" cy="352" r="4.6"/>
<circle cx="707" cy="550" r="4.6"/><circle cx="548" cy="552" r="4.6"/><circle cx="572" cy="584" r="4.6"/><circle cx="595" cy="615" r="4.6"/><circle cx="653" cy="635" r="4.6"/><circle cx="678" cy="596" r="4.6"/><circle cx="719" cy="635" r="4.6"/><circle cx="736" cy="586" r="4.6"/><circle cx="779" cy="593" r="4.6"/><circle cx="779" cy="608" r="4.6"/><circle cx="786" cy="633" r="4.6"/><circle cx="760" cy="533" r="4.6"/><circle cx="790" cy="535" r="4.6"/><circle cx="658" cy="526" r="4.6"/><circle cx="668" cy="527" r="4.6"/><circle cx="679" cy="530" r="4.6"/><circle cx="685" cy="522" r="4.6"/><circle cx="695" cy="530" r="4.6"/><circle cx="698" cy="515" r="4.6"/><circle cx="702" cy="523" r="4.6"/><circle cx="625" cy="534" r="4.6"/>
</g>
<g id="node-green-chemistry-theory">
<circle class="red" cx="343" cy="103" r="8.5"/>
<text class="lbl" x="183" y="86" textLength="317">Green Chemistry: theory and practice.</text>
</g>
<g id="node-green-chemistry-12">
<circle class="red" cx="795" cy="46" r="8.5"/>
<text class="lbl" x="810" y="33" textLength="313">Green Chemistry - os 12 princípios da</text>
<text class="lbl" x="810" y="55" textLength="275">Química Verde e sua inserção nas</text>
<text class="lbl" x="810" y="77" textLength="272">atividades de ensino e pesquisa.</text>
</g>
<g id="node-leis">
<circle class="red" cx="1024" cy="251" r="8.5"/>
<text class="lbl" x="1023" y="235" textLength="127">Leis brasileiras</text>
</g>
<g id="node-cts">
<circle class="red" cx="364" cy="528" r="8.5"/>
<text class="lbl" x="363" y="560" text-anchor="end" textLength="316">Uma análise de pressupostos teóricos</text>
<text class="lbl" x="363" y="582" text-anchor="end" textLength="243">da abordagem CTS (Ciência-</text>
<text class="lbl" x="363" y="604" text-anchor="end" textLength="318">Tecnologia-Sociedade) no contexto da</text>
<text class="lbl" x="363" y="626" text-anchor="end" textLength="166">educação brasileira.</text>
</g>
<g id="node-pedagogia">
<circle class="red" cx="1103" cy="591" r="8.5"/>
<text class="lbl" x="1002" y="622" textLength="192">Pedagogia do oprimido</text>
</g>
<text class="cr" x="10" y="673" textLength="360">Created with NodeXL (http://nodexl.codeplex.com)</text>
</svg>
